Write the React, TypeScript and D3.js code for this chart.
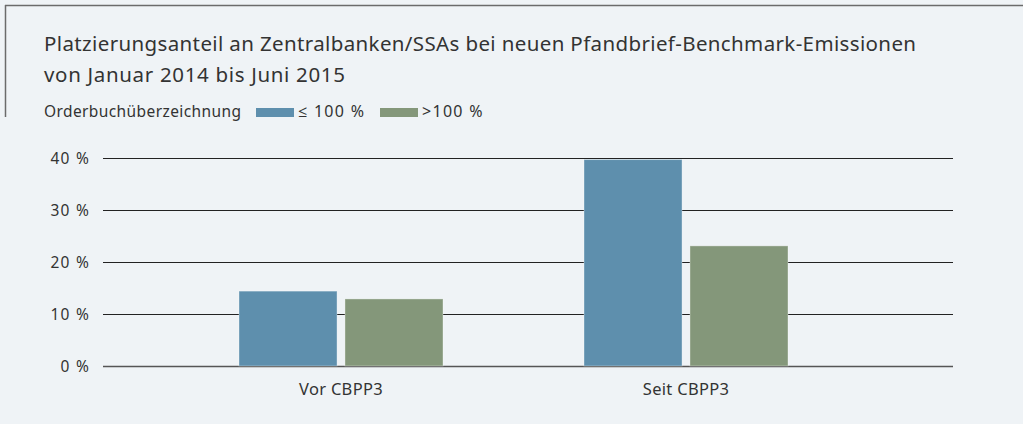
import React from "react";
import * as d3 from "d3";

const categories = ["Vor CBPP3", "Seit CBPP3"];
const seriesNames = ["≤ 100 %", ">100 %"];
const seriesColors = ["#5e8fad", "#84977a"];
const valuesLow = [14.4, 39.7];
const valuesHigh = [12.9, 23.1];
const yTicks = [0, 10, 20, 30, 40];
const titleLines = [
  "Platzierungsanteil an Zentralbanken/SSAs bei neuen Pfandbrief-Benchmark-Emissionen",
  "von Januar 2014 bis Juni 2015",
];
const legendTitle = "Orderbuchüberzeichnung";

const W = 1023;
const H = 424;
const FONT = "'Noto Sans', 'Open Sans', sans-serif";
const TITLE_WIDTHS = [872, 301];

export default function App() {
  const y = d3.scaleLinear().domain([0, 40]).range([366, 158]);
  const x0 = d3.scaleBand<string>().domain(categories).range([168.5, 858.5]).padding(0);
  const x1 = d3
    .scaleBand<string>()
    .domain(seriesNames)
    .range([70.5, 274.5])
    .paddingInner(0.075)
    .paddingOuter(0);
  const series = [valuesLow, valuesHigh];

  return (
    <div style={{ position: "fixed", left: 0, top: 0, width: W, height: H }}>
      <svg width={W} height={H} style={{ display: "block" }} fontFamily={FONT}>
        <rect x={0} y={0} width={W} height={H} fill="#eff3f6" />
        <line x1={5} x2={W} y1={5.5} y2={5.5} stroke="#6b6b6b" strokeWidth={1.5} />
        <line x1={5.5} x2={5.5} y1={5} y2={117} stroke="#6b6b6b" strokeWidth={1.5} />
        {titleLines.map((t, i) => (
          <text
            key={i}
            x={44}
            y={51 + i * 31}
            fontSize={20.5}
            fill="#333"
            textLength={TITLE_WIDTHS[i]}
            lengthAdjust="spacing"
          >
            {t}
          </text>
        ))}
        <text x={44} y={117} fontSize={15.5} fill="#333" textLength={197} lengthAdjust="spacing">
          {legendTitle}
        </text>
        {seriesNames.map((s, i) => {
          const lx = [256, 380][i];
          return (
            <g key={s}>
              <rect x={lx} y={108} width={38} height={9} fill={seriesColors[i]} />
              <text x={lx + 42} y={117} fontSize={16} fill="#333" letterSpacing={1.3}>
                {s}
              </text>
            </g>
          );
        })}
        {yTicks.map((t) => (
          <g key={t}>
            <line
              x1={103}
              x2={953}
              y1={y(t) + 0.5}
              y2={y(t) + 0.5}
              stroke={t === 0 ? "#555" : "#222"}
              strokeWidth={t === 0 ? 1.6 : 1.1}
            />
            <text x={90} y={y(t) + 5.5} fontSize={15.5} fill="#333" textAnchor="end" letterSpacing={1.2}>
              {t} %
            </text>
          </g>
        ))}
        {categories.map((c, ci) => (
          <g key={c} transform={`translate(${x0(c)},0)`}>
            {seriesNames.map((s, si) => (
              <rect
                key={s}
                x={x1(s)}
                y={y(series[si][ci])}
                width={x1.bandwidth()}
                height={y(0) - y(series[si][ci])}
                fill={seriesColors[si]}
                stroke="rgba(255,255,255,0.35)"
                strokeWidth={1}
              />
            ))}
            <text
              x={x0.bandwidth() / 2}
              y={395}
              fontSize={16.5}
              fill="#333"
              textAnchor="middle"
              letterSpacing={0.3}
            >
              {c}
            </text>
          </g>
        ))}
      </svg>
    </div>
  );
}
